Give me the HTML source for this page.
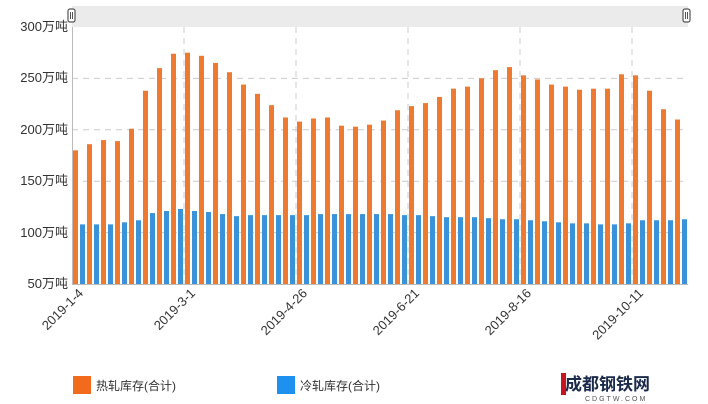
<!DOCTYPE html>
<html><head><meta charset="utf-8"><style>
html,body{margin:0;padding:0;background:#fff;}
svg{display:block;font-family:"Liberation Sans","Noto Sans CJK SC",sans-serif;}
</style></head><body>
<svg id="c" width="708" height="404" viewBox="0 0 708 404" xmlns="http://www.w3.org/2000/svg">
<rect x="0" y="0" width="708" height="404" fill="#fff"/>
<rect x="72" y="6" width="616" height="21" fill="#ebebeb"/>
<rect x="68" y="9" width="7" height="13" rx="2" fill="#fff" stroke="#555" stroke-width="1.2"/>
<line x1="70.5" y1="12" x2="70.5" y2="19" stroke="#555"/><line x1="72.5" y1="12" x2="72.5" y2="19" stroke="#555"/>
<rect x="683" y="9" width="7" height="13" rx="2" fill="#fff" stroke="#555" stroke-width="1.2"/>
<line x1="685.5" y1="12" x2="685.5" y2="19" stroke="#555"/><line x1="687.5" y1="12" x2="687.5" y2="19" stroke="#555"/>
<g stroke="#ccc" stroke-dasharray="6,5" stroke-width="1">
<line x1="72" y1="78.4" x2="688" y2="78.4"/>
<line x1="72" y1="129.8" x2="688" y2="129.8"/>
<line x1="72" y1="181.2" x2="688" y2="181.2"/>
<line x1="72" y1="232.6" x2="688" y2="232.6"/>
<line x1="184" y1="27" x2="184" y2="284"/>
<line x1="296" y1="27" x2="296" y2="284"/>
<line x1="408" y1="27" x2="408" y2="284"/>
<line x1="520" y1="27" x2="520" y2="284"/>
<line x1="632" y1="27" x2="632" y2="284"/>
</g>
<line x1="72.5" y1="27" x2="72.5" y2="284" stroke="#bbb"/>
<g id="bars"></g>
<line x1="72" y1="284.5" x2="688" y2="284.5" stroke="#bbb"/>
<g font-size="13" fill="#333" text-anchor="end">
<text x="68" y="31">300万吨</text>
<text x="68" y="82">250万吨</text>
<text x="68" y="134">200万吨</text>
<text x="68" y="185">150万吨</text>
<text x="68" y="237">100万吨</text>
<text x="68" y="288">50万吨</text>
</g>
<g font-size="13" fill="#333" text-anchor="end">
<text transform="translate(84,294) rotate(-45)">2019-1-4</text>
<text transform="translate(196,294) rotate(-45)">2019-3-1</text>
<text transform="translate(308,294) rotate(-45)">2019-4-26</text>
<text transform="translate(420,294) rotate(-45)">2019-6-21</text>
<text transform="translate(532,294) rotate(-45)">2019-8-16</text>
<text transform="translate(644,294) rotate(-45)">2019-10-11</text>
</g>
<rect x="73" y="376" width="18" height="18" fill="#f26b1d"/>
<text x="96" y="390" font-size="12" fill="#333">热轧库存(合计)</text>
<rect x="277" y="376" width="18" height="18" fill="#1e90f0"/>
<text x="300" y="390" font-size="12" fill="#333">冷轧库存(合计)</text>
<rect x="561" y="373" width="5" height="22" fill="#c8141e"/>
<text x="565" y="390" font-size="17" font-weight="bold" fill="#1a2a4a">成都钢铁网</text>
<text x="585" y="401" font-size="7" fill="#555" letter-spacing="2">CDGTW.COM</text>
</svg>
<script>
var o=[180,186,190,189,201,238,260,274,275,272,265,256,244,235,224,212,208,211,212,204,203,205,209,219,223,226,232,240,242,250,258,261,253,249,244,242,239,240,240,254,253,238,220,210];
var b=[108,108,108,110,112,119,121,123,121,120,118,116,117,117,117,117,117,118,118,118,118,118,118,117,117,116,115,115,115,114,113,113,112,111,110,109,109,108,108,109,112,112,112,113];
var g=document.getElementById('bars'),s='';
function y(v){return 284-(v-50)*1.028;}
for(var i=0;i<44;i++){var x=72+14*i+1;
s+='<rect x="'+x+'" y="'+y(o[i])+'" width="5" height="'+(284-y(o[i]))+'" fill="#ee7a31"/>';
s+='<rect x="'+(x+7)+'" y="'+y(b[i])+'" width="5" height="'+(284-y(b[i]))+'" fill="#3a92d8"/>';}
g.innerHTML=s;
</script>
</body></html>
